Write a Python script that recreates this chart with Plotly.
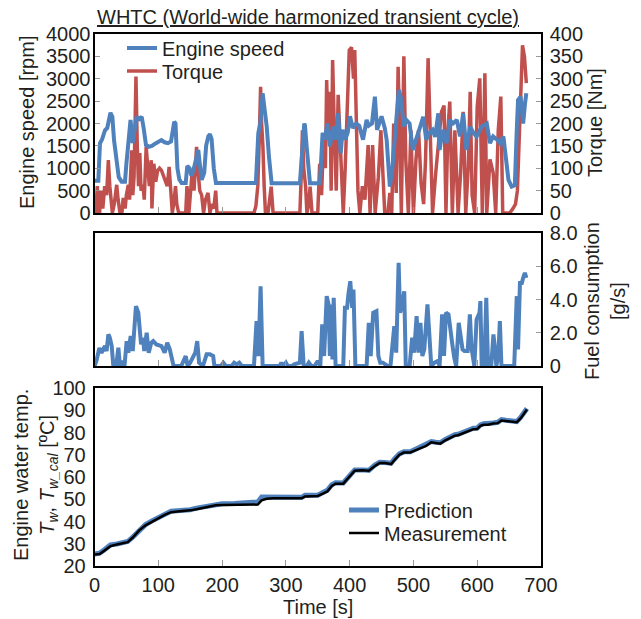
import plotly.graph_objects as go

# ---------------- data ----------------
speed_t = [0, 6, 8.6, 12, 16.5, 20, 25, 28, 30.6, 34.8, 38, 42.6, 47.8, 50, 54.6, 56.5, 59.8, 63, 66, 70, 74, 77,
           80.7, 85, 90, 95, 100, 105, 110, 115, 120, 123, 125, 127, 130, 133, 136.6, 143, 145.5, 149, 152, 155,
           159, 162.7, 165, 168, 172, 175, 178.4, 181, 183.6, 187, 190.4, 253, 256.8, 260, 263.6, 266, 270, 273.5,
           277.7, 322, 325, 328.9, 330, 332.5, 337.8, 353.4, 357.6, 361, 365, 369, 374, 378, 382, 386, 389, 393,
           397, 400.5, 405, 410, 415, 421, 426.6, 430, 435, 439.6, 443, 450, 455, 458, 463, 467, 471, 474, 477,
           480, 485, 489, 494, 499, 505, 510, 515.4, 520, 525, 530, 534, 539, 541, 546, 552, 557, 562, 568, 573,
           578, 583, 589, 594, 599, 607, 615, 620, 625, 631, 636, 641, 644, 649, 654, 659, 662, 664, 668, 672,
           675, 677]
speed_rpm = [720, 720, 1560, 1650, 1850, 1900, 2240, 2150, 1630, 1140, 800, 700, 700, 1100, 1790, 2080, 1560, 1900,
             2150, 2100, 2150, 1900, 1520, 1480, 1500, 1550, 1600, 1630, 1580, 1560, 1600, 1900, 2040, 2000, 1000,
             750, 670, 670, 1050, 1000, 830, 950, 1250, 1410, 1100, 740, 900, 1500, 1710, 1760, 1650, 1000, 670,
             670, 1790, 2000, 2675, 2400, 1930, 1260, 665, 665, 1200, 2000, 1950, 1500, 665, 665, 1790, 1640, 2000,
             1490, 1930, 1640, 2230, 1340, 1860, 1640, 1800, 2160, 1900, 2000, 1950, 1640, 2080, 1950, 2000, 2600,
             1860, 2160, 1900, 1640, 590, 1000, 1630, 2200, 2750, 2600, 1930, 2080, 2000, 1410, 1650, 1900, 2150,
             1640, 1790, 1860, 1700, 2230, 1410, 1860, 1560, 2080, 2000, 2080, 1710, 2230, 1410, 1930, 1790, 1710,
             1930, 2000, 1560, 1710, 1640, 1560, 1710, 1260, 740, 590, 620, 1860, 2525, 2600, 2000, 2450, 2675]

torque_t = [0, 2, 4.4, 6, 8, 10, 13, 16, 19, 21.7, 24, 26, 28, 31, 34.8, 37, 40, 43, 45, 48, 50, 53, 55, 58.3, 60,
            62, 65, 67, 69, 71, 73, 76, 78, 81, 84, 86, 89, 90, 93, 96, 99, 102, 105, 108, 111, 114, 117, 120, 122,
            125, 127, 129, 132, 143, 145, 148, 150, 153, 156, 158, 160, 162, 165, 168, 171, 174, 178, 181, 184, 187,
            190, 192, 250, 253, 256, 258, 260.4, 262, 264, 266, 268, 272, 275, 277, 280, 322, 324, 326, 328, 331,
            333, 336, 338, 341, 350, 353, 356, 359, 362, 364, 366, 369, 371, 373.3, 376, 379, 382, 385, 390, 393,
            396, 399.4, 403, 406, 408, 410, 413, 416, 420, 424, 429, 432, 436, 440, 445, 449, 452, 455, 460, 463,
            466, 469, 473, 476, 479, 481, 485, 488, 492, 496, 500, 504, 508, 512, 516, 519, 523, 527, 530, 535, 544,
            548, 551, 554, 557, 561, 565, 570, 574, 578, 582, 586, 589, 592, 596, 600, 604, 608, 612, 615, 620, 625,
            629, 633, 637, 640, 651, 656, 660, 663, 666, 668, 671, 674, 677]
torque_nm = [0, 0, 60, 0, 0, 50, 10, 60, 40, 118, 60, 20, 0, 20, 63, 30, 0, 0, 34, 10, 40, 63, 30, 140, 40, 80, 305,
             150, 60, 134, 50, 63, 30, 148, 90, 60, 118, 10, 110, 70, 95, 100, 95, 85, 75, 60, 103, 40, 0, 30, 60,
             20, 0, 0, 60, 0, 30, 90, 50, 110, 148, 100, 50, 40, 0, 30, 45, 0, 20, 10, 50, 0, 0, 15, 60, 150, 282,
             200, 150, 60, 0, 0, 30, 59, 0, 0, 80, 185, 100, 59, 0, 20, 59, 0, 0, 110, 40, 163, 100, 297, 185, 271,
             50, 342, 185, 50, 264, 150, 0, 100, 250, 364, 370, 300, 364, 200, 50, 0, 60, 30, 152, 0, 152, 0, 80,
             185, 80, 0, 0, 45, 0, 200, 45, 327, 150, 0, 350, 120, 0, 185, 0, 120, 185, 67, 20, 120, 346, 100, 0, 90,
             226, 240, 0, 185, 249, 0, 185, 0, 90, 226, 0, 105, 271, 40, 0, 237, 301, 0, 312, 0, 120, 90, 0, 185,
             260, 0, 0, 10, 20, 50, 185, 290, 375, 350, 290]

fuel_t = [0, 3, 7.6, 11, 16.5, 19, 21.7, 24, 27, 29.5, 34, 37.4, 40, 44, 47, 50.4, 53, 56.7, 60, 65, 68.7, 71, 73,
          76, 78, 81.8, 85, 89, 92, 97, 105, 110, 114, 118, 121, 124, 136, 143, 146, 150, 154, 158, 161, 164, 170,
          175.8, 181, 186, 188, 198, 202, 206, 215, 219, 223, 227, 231, 250, 254, 257, 260.4, 263.6, 290, 293, 296,
          300, 303, 310, 313, 322, 324.7, 328, 333, 336, 340, 345, 350, 354, 357, 360, 364, 367, 369, 371, 373, 375,
          378, 390, 392.6, 396, 398, 401, 404, 406, 409, 426.6, 430, 433, 437, 442, 445, 448, 452, 457, 459.5, 464,
          467, 470, 473, 476.8, 479, 482, 485.6, 488, 494, 498, 501, 505, 508, 511, 514, 517, 522, 525, 528, 533,
          538, 541, 545, 548, 551, 555, 557, 561, 564, 567, 571, 574, 577, 580, 585, 588.5, 591, 595.5, 599, 603.6,
          605, 607, 611, 614.2, 617, 622, 625.4, 628, 630, 633, 635.5, 638, 658, 662, 664, 667, 670, 672, 674.7,
          677]
fuel_gs = [0, 0.3, 1.08, 0.8, 1.2, 0.9, 1.9, 1.7, 1.2, 0, 0, 1.1, 0, 0.3, 0, 1.5, 0.8, 1.8, 0.9, 3.6, 3.2, 1.6,
           1.3, 1.7, 0.9, 2.0, 0.8, 1.4, 1.5, 1.3, 1.2, 0.8, 1.4, 1.0, 0.4, 0, 0, 0.6, 0, 0.2, 0.5, 0.8, 1.5, 0.2,
           0, 0.7, 0.7, 0.6, 0, 0, 0.2, 0, 0, 0.2, 0.1, 0.2, 0, 0, 2.7, 0.6, 4.8, 0, 0, 0.2, 0, 0.2, 0, 0, 0.1,
           0.2, 2.1, 0, 0, 0.2, 0, 0, 0.3, 0, 2.5, 0.6, 4.2, 3.7, 0.6, 3.7, 0.4, 4.1, 0, 0, 3.5, 3.5, 4.3, 5.1,
           3.5, 4.6, 0, 0, 2.6, 0.6, 3.2, 3.3, 0.6, 0.2, 0.2, 0.1, 0, 0, 1.0, 2.4, 0.8, 6.2, 3.2, 3.6, 4.5, 0, 0,
           1.7, 0.8, 3.0, 0.8, 2.6, 0.6, 1.0, 3.7, 1.4, 0, 0.2, 0.3, 0, 3.1, 0.6, 3.2, 3.1, 2.3, 1.3, 0.5, 0, 2.6,
           1.7, 1.0, 0.9, 0.9, 3.1, 1.1, 0, 2.8, 3.2, 3.9, 0, 0, 4.1, 0, 0, 1.9, 1.0, 0, 0.6, 2.7, 0, 0, 4.2, 1.0,
           5.0, 5.0, 5.3, 5.6, 5.3]

temp_t = [0, 8, 15, 25, 35, 45, 52, 60, 70, 80, 90, 100, 110, 120, 130, 140, 150, 160, 170, 180, 190, 200, 220, 240,
          256, 262, 270, 280, 300, 325, 330, 350, 358, 365, 372, 378, 390, 395, 402, 408, 420, 430, 440, 447, 455,
          465, 470, 478, 485, 495, 500, 510, 520, 528, 535, 542, 550, 560, 565, 570, 578, 585, 594, 600, 605, 610,
          617, 625, 632, 638, 645, 655, 662, 668, 674, 678]
temp_pred = [25.4, 25.8, 27.2, 29.5, 29.9, 30.6, 31.0, 33.0, 36.2, 38.6, 40.3, 41.8, 43.3, 44.6, 44.8, 44.9, 45.3,
             46.0, 46.5, 47.1, 47.9, 48.0, 48.1, 48.5, 48.8, 51.0, 51.0, 50.8, 50.8, 50.9, 51.8, 51.8, 53.0, 54.0,
             56.5, 57.4, 57.3, 59.0, 61.5, 63.2, 63.2, 63.0, 65.5, 66.6, 66.5, 66.2, 68.0, 70.4, 71.3, 71.3, 72.0,
             73.2, 74.4, 75.9, 75.6, 75.4, 76.9, 78.4, 79.0, 79.2, 80.2, 80.8, 81.9, 82.0, 83.4, 83.9, 83.9, 84.3,
             84.6, 85.8, 85.5, 85.0, 84.9, 86.8, 89.0, 90.8]
temp_meas = [25.2, 25.4, 26.8, 28.9, 29.7, 30.3, 30.7, 32.8, 36.0, 38.3, 40.0, 41.4, 43.0, 44.2, 44.5, 44.7, 45.0,
             45.5, 46.2, 46.8, 47.3, 47.4, 47.4, 47.5, 47.6, 49.5, 50.2, 50.4, 50.5, 50.5, 51.2, 51.5, 52.5, 53.5,
             56.0, 57.0, 57.0, 58.5, 61.0, 62.8, 63.0, 62.8, 65.0, 66.3, 66.3, 65.8, 67.5, 70.0, 71.0, 71.0, 71.6,
             72.8, 74.0, 75.6, 75.3, 75.0, 76.5, 78.0, 78.6, 78.8, 79.8, 80.4, 81.5, 81.6, 83.0, 83.5, 83.5, 84.0,
             84.2, 85.4, 85.2, 84.8, 84.6, 86.3, 88.5, 90.3]

time_ticks = [0, 100, 200, 300, 400, 500, 600, 700]
rpm_ticks = [0, 500, 1000, 1500, 2000, 2500, 3000, 3500, 4000]
nm_ticks = [0, 50, 100, 150, 200, 250, 300, 350, 400]
fuel_ticks = [0, 2, 4, 6, 8]
fuel_tick_text = ["0", "2.0", "4.0", "6.0", "8.0"]
temp_ticks = [20, 30, 40, 50, 60, 70, 80, 90, 100]

# ---------------- styling ----------------
W, H = 641, 619
BLUE = "#4F81BD"
RED = "#C0504D"
TXT = "#231F20"
FONT = "Arial, Liberation Sans, sans-serif"
FS = 20
TICKFONT = dict(size=FS, color=TXT)


def px_x(p):
    return p / W


def px_y(p):
    return 1 - p / H


X0, X1 = 94.5, 541
fig = go.Figure()

fig.add_trace(go.Scatter(x=torque_t, y=torque_nm, mode="lines", name="Torque",
                         line=dict(color=RED, width=3.5), xaxis="x", yaxis="y",
                         legend="legend3"))
fig.add_trace(go.Scatter(x=speed_t, y=speed_rpm, mode="lines", name="Engine speed",
                         line=dict(color=BLUE, width=4), xaxis="x", yaxis="y2",
                         legend="legend"))
fig.add_trace(go.Scatter(x=fuel_t, y=fuel_gs, mode="lines", name="Fuel",
                         line=dict(color=BLUE, width=4), xaxis="x2", yaxis="y3",
                         showlegend=False))
fig.add_trace(go.Scatter(x=temp_t, y=temp_pred, mode="lines", name="Prediction",
                         line=dict(color=BLUE, width=5), xaxis="x3", yaxis="y4",
                         legend="legend2"))
fig.add_trace(go.Scatter(x=temp_t, y=temp_meas, mode="lines", name="Measurement",
                         line=dict(color="black", width=2.5), xaxis="x3", yaxis="y4",
                         legend="legend4"))

common_x = dict(range=[0, 700], tickvals=time_ticks, ticks="inside", ticklen=6,
                tickcolor="#9a9a9a", showline=True, linecolor="black", linewidth=1.5,
                mirror=True, showgrid=False, zeroline=False, automargin=False,
                domain=[px_x(X0), px_x(X1)], tickfont=TICKFONT, ticklabelstandoff=0)

common_y = dict(ticks="inside", ticklen=5, tickcolor="#9a9a9a", showgrid=False,
                zeroline=False, automargin=False, tickfont=TICKFONT, ticklabelstandoff=3,
                linecolor="black", linewidth=1.5)


def leg(xp, yp):
    return dict(x=px_x(xp), y=px_y(yp), xanchor="left", yanchor="middle",
                bgcolor="rgba(0,0,0,0)", font=dict(size=FS, color=TXT),
                tracegroupgap=0, itemwidth=30)


fig.update_layout(
    width=W, height=H, margin=dict(l=0, r=0, t=0, b=0),
    paper_bgcolor="white", plot_bgcolor="white",
    font=dict(family=FONT, size=FS, color=TXT),
    xaxis=dict(common_x, anchor="y", showticklabels=False),
    yaxis=dict(common_y, domain=[px_y(213), px_y(34)], range=[0, 400], tickvals=nm_ticks,
               side="right", anchor="x", showline=True, mirror=True),
    yaxis2=dict(common_y, range=[0, 4000], tickvals=rpm_ticks, side="left", overlaying="y",
                anchor="x", showline=False),
    xaxis2=dict(common_x, anchor="y3", showticklabels=False),
    yaxis3=dict(common_y, domain=[px_y(366), px_y(233)], range=[0, 8], tickvals=fuel_ticks,
                ticktext=fuel_tick_text, side="right", anchor="x2", showline=True, mirror=True),
    xaxis3=dict(common_x, anchor="y4", showticklabels=True),
    yaxis4=dict(common_y, domain=[px_y(566), px_y(388)], range=[20, 100], tickvals=temp_ticks,
                side="left", anchor="x3", ticks="", showline=True, mirror=True),
    legend=leg(122, 48),
    legend3=leg(122, 71),
    legend2=leg(344, 510),
    legend4=leg(344, 533),
)

ann = []
ann.append(dict(text="WHTC (World-wide harmonized transient cycle)", x=px_x(95), y=px_y(17),
                xanchor="left", yanchor="middle",
                font=dict(size=FS, color=TXT, lineposition="under")))
ann.append(dict(text="Engine speed [rpm]", x=px_x(27), y=px_y(123), textangle=-90,
                xanchor="center", yanchor="middle"))
ann.append(dict(text="Torque [Nm]", x=px_x(595), y=px_y(123), textangle=-90,
                xanchor="center", yanchor="middle"))
ann.append(dict(text="Fuel consumption<br>[g/s]", x=px_x(605), y=px_y(301), textangle=-90,
                xanchor="center", yanchor="middle"))
ann.append(dict(text="Engine water temp.<br><i>T</i><sub><i>w</i></sub>, <i>T</i><sub><i>w_cal</i></sub> [ºC]",
                x=px_x(35), y=px_y(475), textangle=-90, xanchor="center", yanchor="middle"))
ann.append(dict(text="Time [s]", x=px_x(318), y=px_y(607), xanchor="center", yanchor="middle"))
for a in ann:
    a.update(xref="paper", yref="paper", showarrow=False)
    a.setdefault("font", dict(size=FS, color=TXT))
fig.update_layout(annotations=ann)

fig.write_html("out.html", config={"displayModeBar": False},
               post_script="document.body.style.margin='0px';")
